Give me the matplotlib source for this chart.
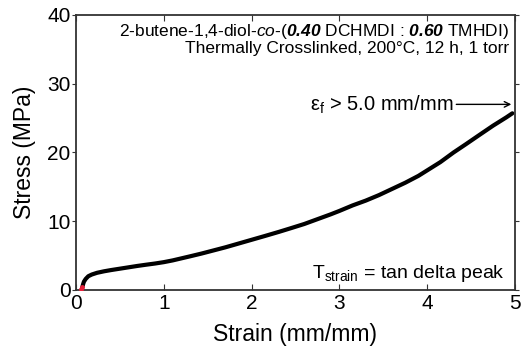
import numpy as np
import matplotlib.pyplot as plt

plt.rcParams['font.family'] = ['Liberation Sans', 'DejaVu Sans']
plt.rcParams['mathtext.fontset'] = 'custom'
plt.rcParams['mathtext.rm'] = 'Liberation Sans'
plt.rcParams['mathtext.it'] = 'Liberation Sans:italic'
plt.rcParams['mathtext.bf'] = 'Liberation Sans:bold'
plt.rcParams['mathtext.bfit'] = 'Liberation Sans:bold:italic'

# values
strain = [0.07, 0.08, 0.09, 0.11, 0.14, 0.18, 0.24, 0.32, 0.40, 0.50, 0.60, 0.70,
          0.80, 0.90, 1.00, 1.10, 1.20, 1.30, 1.43, 1.55, 1.70, 1.85, 2.00, 2.15,
          2.31, 2.45, 2.60, 2.75, 2.90, 3.00, 3.15, 3.30, 3.45, 3.60, 3.75, 3.90,
          4.00, 4.15, 4.30, 4.44, 4.60, 4.75, 4.90, 4.97]
stress = [0.3, 0.8, 1.2, 1.6, 2.0, 2.25, 2.5, 2.72, 2.9, 3.1, 3.3, 3.5,
          3.68, 3.85, 4.05, 4.3, 4.6, 4.9, 5.3, 5.7, 6.2, 6.75, 7.3, 7.85,
          8.45, 9.0, 9.6, 10.3, 11.0, 11.5, 12.3, 13.0, 13.8, 14.7, 15.6, 16.6,
          17.4, 18.6, 20.0, 21.2, 22.6, 23.9, 25.1, 25.7]
red_strain = [0.06, 0.07]
red_stress = [0.2, 0.5]

fig = plt.figure(figsize=(5.23, 3.57), dpi=100)
ax = fig.add_axes([0.1453, 0.1877, 0.8394, 0.7703])

ax.plot(strain, stress, color='black', lw=3, solid_capstyle='round', solid_joinstyle='round')
ax.scatter(red_strain, red_stress, color='#e8203a', s=6, zorder=5)

ax.set_xlim(0, 5)
ax.set_ylim(0, 40)
ax.set_xticks([0, 1, 2, 3, 4, 5])
ax.set_yticks([0, 10, 20, 30, 40])
ax.tick_params(axis='x', direction='in', top=True, length=4, labelsize=15, pad=3, color='#333333')
ax.tick_params(axis='y', which='both', direction='out', length=3, labelsize=15, pad=1, color='#333333')
ax.tick_params(axis='y', right=True)
for t in ax.yaxis.get_ticklines()[1::2]:
    t.set_marker(1)  # right ticks point inward

for s in ax.spines.values():
    s.set_color('#333333')
    s.set_linewidth(1.3)

ax.set_xlabel('Strain (mm/mm)', fontsize=16.5, labelpad=7)
ax.set_ylabel('Stress (MPa)', fontsize=16.5, labelpad=8)

ax.text(4.93, 37.6, r'2-butene-1,4-diol-$\mathit{co}$-($\mathbfit{0.40}$ DCHMDI : $\mathbfit{0.60}$ TMHDI)',
        ha='right', va='center', fontsize=12.5)
ax.text(4.93, 35.1, 'Thermally Crosslinked, 200°C, 12 h, 1 torr',
        ha='right', va='center', fontsize=12.5)

ax.annotate('', xy=(4.99, 27.0), xytext=(4.3, 27.0),
            arrowprops=dict(arrowstyle='->', color='black', lw=1.0))
ax.text(4.3, 27.0, r'ε$_\mathregular{f}$ > 5.0 mm/mm', ha='right', va='center', fontsize=14.5)

ax.text(4.88, 2.4, r'T$_\mathregular{strain}$ = tan delta peak', ha='right', va='center', fontsize=14)

fig.savefig('out.png', dpi=100)
